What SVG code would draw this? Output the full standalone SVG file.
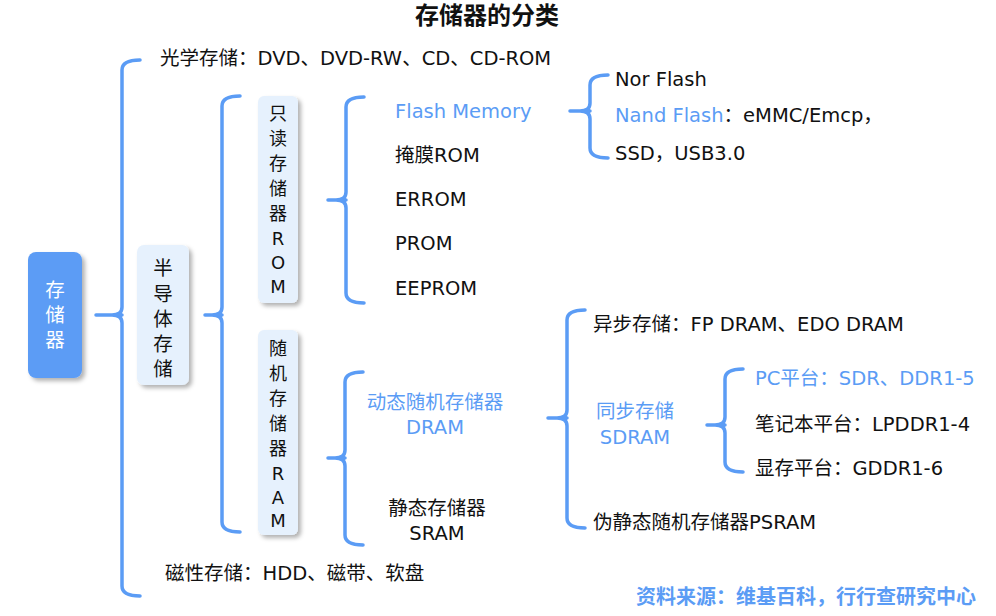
<svg xmlns="http://www.w3.org/2000/svg" width="996" height="616" viewBox="0 0 996 616">
<defs>
<filter id="sh" x="-30%" y="-10%" width="170%" height="130%"><feDropShadow dx="3" dy="3" stdDeviation="2" flood-color="#000" flood-opacity="0.3"/></filter>
</defs>
<style>
text{font-family:"DejaVu Sans","Noto Sans CJK SC",sans-serif;font-size:19.5px;fill:#111;dominant-baseline:central}
.b{fill:#5b9cf5}
.c{text-anchor:middle}
.v{font-size:18px}
.br{fill:none;stroke:#5b9cf5;stroke-width:3.5;stroke-linecap:round;stroke-linejoin:round}
.lt{fill:#e6f1fd}
</style>
<rect width="996" height="616" fill="#fff"/>
<text x="487" y="16" class="c" style="font-size:24px;font-weight:bold">存储器的分类</text>
<g id="connectors">
<path class="br" d="M96,315 H122 M140,60 Q122,60 122,70 V307 Q122,315 112,315 Q122,315 122,323 V586 Q122,596 140,596"/>
<path class="br" d="M205,315 H222 M240,96 Q222,96 222,106 V307 Q222,315 212,315 Q222,315 222,323 V522 Q222,532 240,532"/>
<path class="br" d="M328,200 H346 M364,97 Q346,97 346,107 V192 Q346,200 336,200 Q346,200 346,208 V293 Q346,303 364,303"/>
<path class="br" d="M570,111 H590 M608,75 Q590,75 590,85 V103 Q590,111 580,111 Q590,111 590,119 V148 Q590,158 608,158"/>
<path class="br" d="M328,458 H345 M363,372 Q345,372 345,382 V450 Q345,458 335,458 Q345,458 345,466 V535 Q345,545 363,545"/>
<path class="br" d="M548,418 H567 M585,310 Q567,310 567,320 V410 Q567,418 557,418 Q567,418 567,426 V518 Q567,528 585,528"/>
<path class="br" d="M707,425 H725 M743,369 Q725,369 725,379 V417 Q725,425 715,425 Q725,425 725,433 V462 Q725,472 743,472"/>
</g>
<g id="root">
<rect x="28" y="252" width="54" height="126" rx="8" fill="#5b9cf5" filter="url(#sh)"/>
<text x="55" y="290" class="c" style="fill:#fff">存</text><text x="55" y="315" class="c" style="fill:#fff">储</text><text x="55" y="340" class="c" style="fill:#fff">器</text>
</g>
<g id="semi">
<rect x="137" y="245" width="52" height="140" rx="7" class="lt" filter="url(#sh)"/>
<text x="163" y="268" class="c">半</text><text x="163" y="294" class="c">导</text><text x="163" y="319" class="c">体</text><text x="163" y="344" class="c">存</text><text x="163" y="369" class="c">储</text>
</g>
<g id="rom">
<rect x="258" y="96" width="40" height="207" rx="6" class="lt" filter="url(#sh)"/>
<text x="278" y="113" class="c v">只</text><text x="278" y="138" class="c v">读</text><text x="278" y="163" class="c v">存</text><text x="278" y="188" class="c v">储</text><text x="278" y="213" class="c v">器</text><text x="278" y="238" class="c v">R</text><text x="278" y="262" class="c v">O</text><text x="278" y="286" class="c v">M</text>
</g>
<g id="ram">
<rect x="258" y="330" width="40" height="205" rx="6" class="lt" filter="url(#sh)"/>
<text x="278" y="348" class="c v">随</text><text x="278" y="373" class="c v">机</text><text x="278" y="398" class="c v">存</text><text x="278" y="423" class="c v">储</text><text x="278" y="448" class="c v">器</text><text x="278" y="473" class="c v">R</text><text x="278" y="497" class="c v">A</text><text x="278" y="520" class="c v">M</text>
</g>
<g id="optical"><text x="160" y="58">光学存储：DVD、DVD-RW、CD、CD-ROM</text></g>
<g id="magnetic"><text x="165" y="573">磁性存储：HDD、磁带、软盘</text></g>
<g id="romitems">
<text x="395" y="111" class="b">Flash Memory</text>
<text x="395" y="155">掩膜ROM</text>
<text x="395" y="199">ERROM</text>
<text x="395" y="243">PROM</text>
<text x="395" y="288">EEPROM</text>
</g>
<g id="flash">
<text x="615" y="79">Nor Flash</text>
<text x="615" y="115"><tspan class="b">Nand Flash</tspan>：eMMC/Emcp，</text>
<text x="615" y="153">SSD，USB3.0</text>
</g>
<g id="dram"><text x="435" y="402" class="c b">动态随机存储器</text><text x="435" y="427" class="c b">DRAM</text></g>
<g id="sram"><text x="437" y="508" class="c">静态存储器</text><text x="437" y="533" class="c">SRAM</text></g>
<g id="async"><text x="593" y="324">异步存储：FP DRAM、EDO DRAM</text></g>
<g id="sdram"><text x="635" y="411" class="c b">同步存储</text><text x="635" y="437" class="c b">SDRAM</text></g>
<g id="psram"><text x="593" y="522">伪静态随机存储器PSRAM</text></g>
<g id="sditems">
<text x="755" y="378" class="b">PC平台：SDR、DDR1-5</text>
<text x="755" y="424">笔记本平台：LPDDR1-4</text>
<text x="755" y="468">显存平台：GDDR1-6</text>
</g>
<text x="976" y="597" style="text-anchor:end;font-weight:bold;font-size:20px;fill:#5b9cf5">资料来源：维基百科，行行查研究中心</text>
</svg>
